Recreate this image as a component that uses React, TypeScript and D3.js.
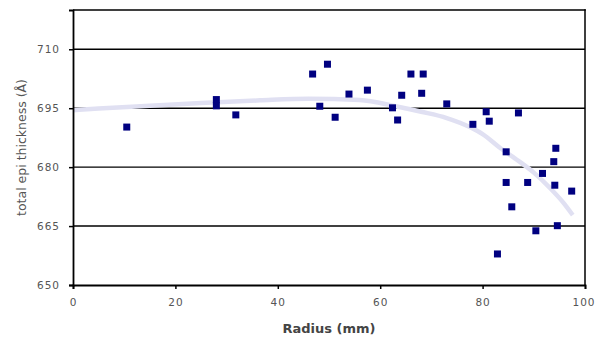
import React, { useEffect, useRef } from 'react';
import * as d3 from 'd3';

// measured points: radius (mm) and total epi thickness (Å)
const radius = [10.5, 28, 28, 31.8, 46.8, 49.7, 48.2, 51.2, 53.9, 57.5, 62.4, 63.4, 64.2, 66, 68.1, 68.4,
  73, 78.1, 80.7, 81.3, 87, 84.6, 82.9, 84.6, 85.7, 88.8, 90.4, 91.7, 93.9, 94.3, 94.1, 94.6, 97.4];
const thickness = [690.2, 697.2, 695.6, 693.3, 703.7, 706.2, 695.5, 692.7, 698.6, 699.6, 695.1, 692, 698.3, 703.7, 698.8, 703.7,
  696.1, 690.9, 694.1, 691.7, 693.8, 683.9, 657.9, 676.1, 669.9, 676.1, 663.8, 678.4, 681.4, 684.8, 675.4, 665.1, 673.9];

// polynomial trend line
const trendRadius = [0, 5, 15, 25, 36.5, 46, 56, 63, 68, 73, 77.5, 80, 83.5, 87, 90, 93, 96, 97.6];
const trendValue = [694.5, 694.9, 695.6, 696.3, 697.0, 697.4, 697.1, 695.5, 694.1, 692.5, 690.2, 688.4, 684.8, 681.6, 678.6, 674.9, 670.6, 667.8];

const xTicks = [0, 20, 40, 60, 80, 100];
const yTicks = [650, 665, 680, 695, 710];

const FONT = '"DejaVu Sans", Verdana, sans-serif';

const App = () => {
  const svgRef = useRef<SVGSVGElement>(null);

  useEffect(() => {
    const left = 73, right = 585, top = 10, bottom = 285;
    const x = d3.scaleLinear().domain([0, 100]).range([left, right]);
    const y = d3.scaleLinear().domain([650, 720]).range([bottom, top]);

    const svg = d3.select(svgRef.current);
    svg.selectAll('*').remove();

    // plot frame (top + right border)
    svg.append('rect')
      .attr('x', left).attr('y', top - 0.75)
      .attr('width', right - left + 0.75).attr('height', 1.5)
      .attr('fill', '#000');
    svg.append('rect')
      .attr('x', right - 0.75).attr('y', top - 0.75)
      .attr('width', 1.5).attr('height', bottom - top + 0.75)
      .attr('fill', '#000');

    // gridlines
    svg.append('g')
      .selectAll('line')
      .data(yTicks.filter(d => d > 650))
      .join('line')
      .attr('x1', left).attr('x2', right)
      .attr('y1', d => y(d)).attr('y2', d => y(d))
      .attr('stroke', '#000').attr('stroke-width', 1.4);

    // trend line
    const line = d3.line<number>()
      .x((d, i) => x(trendRadius[i]))
      .y(d => y(d))
      .curve(d3.curveMonotoneX);
    svg.append('path')
      .datum(trendValue)
      .attr('fill', 'none')
      .attr('stroke', '#e0e0f2')
      .attr('stroke-width', 4.5)
      .attr('d', line);

    // axes
    const xAxis = svg.append('g')
      .attr('transform', 'translate(0,' + bottom + ')')
      .call(d3.axisBottom(x).tickValues(xTicks).tickSize(4).tickPadding(10));
    const yAxis = svg.append('g')
      .attr('transform', 'translate(' + left + ',0)')
      .call(d3.axisLeft(y).tickValues(yTicks).tickSize(4).tickPadding(9));
    [xAxis, yAxis].forEach(a => {
      a.select('.domain').attr('stroke', '#000').attr('stroke-width', 1.8);
      a.selectAll('.tick line').attr('stroke', '#000').attr('stroke-width', 1.5);
      a.selectAll('.tick text')
        .attr('fill', '#555')
        .style('font-family', FONT)
        .style('font-size', '10.5px')
        .style('letter-spacing', '1px');
    });
    // last x label sits at the page edge, keep it inside
    xAxis.selectAll<SVGTextElement, number>('.tick text')
      .filter(d => d === 100)
      .attr('text-anchor', 'end')
      .attr('dx', 10);

    // points
    svg.append('g')
      .selectAll('rect')
      .data(radius)
      .join('rect')
      .attr('x', (d) => x(d) - 3.5)
      .attr('y', (d, i) => y(thickness[i]) - 3.5)
      .attr('width', 7).attr('height', 7)
      .attr('fill', '#000080');

    // titles
    svg.append('text')
      .attr('x', (left + right) / 2).attr('y', 333)
      .attr('text-anchor', 'middle')
      .attr('fill', '#444')
      .style('font-family', FONT)
      .style('font-size', '13px')
      .style('font-weight', 'bold')
      .text('Radius (mm)');

    svg.append('text')
      .attr('transform', 'translate(26,' + (top + bottom) / 2 + ') rotate(-90)')
      .attr('text-anchor', 'middle')
      .attr('fill', '#555')
      .style('font-family', FONT)
      .style('font-size', '12.5px')
      .text('total epi thickness (Å)');
  }, []);

  return (
    <svg ref={svgRef} width={595} height={340}
      style={{ position: 'absolute', left: 0, top: 0, background: '#fff' }}></svg>
  );
};

export default App;
